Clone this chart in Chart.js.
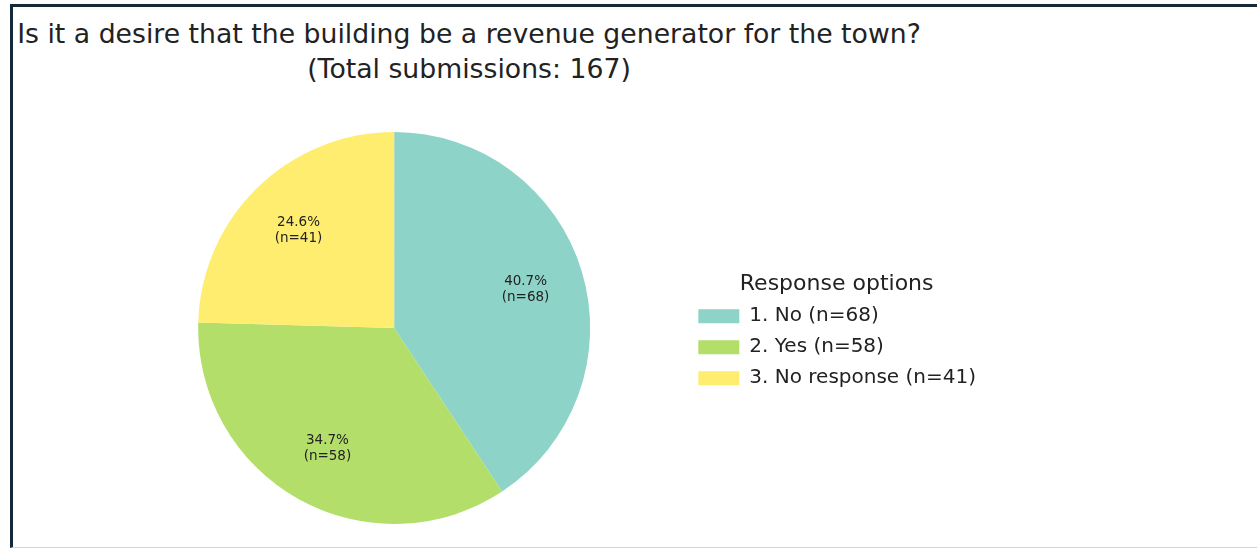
<!DOCTYPE html>
<html lang="en">

<head>
    <meta charset="utf-8" />
    <title>Revenue generator survey</title>
    <script src="https://cdn.jsdelivr.net/npm/chart.js@4.4.1/dist/chart.umd.min.js"></script>
    <style>
        body {
            margin: 0;
            width: 1257px;
            height: 548px;
            position: relative;
            background: #fff;
            overflow: hidden;
            font-family: 'DejaVu Sans', sans-serif;
        }

        #frame {
            position: absolute;
            left: 10px;
            top: 4px;
            right: 0;
            bottom: 0;
            border-left: 3px solid #15293a;
            border-top: 3px solid #15293a;
            border-bottom: 1px solid #d4d4d4;
        }

        #chart-title {
            position: absolute;
            left: 0;
            width: 938px;
            top: 16px;
            text-align: center;
            font-size: 26.7px;
            line-height: 35px;
            color: #222;
            white-space: pre;
        }

        #chart-pie {
            position: absolute;
            left: 0;
            top: 0;
        }
    </style>
</head>

<body>
    <div id="frame"></div>
    <div id="chart-title">Is it a desire that the building be a revenue generator for the town?
(Total submissions: 167)</div>
    <canvas id="chart-pie" width="1257" height="548"></canvas>
</body>

<script>
    const categories = ['1. No', '2. Yes', '3. No response'];
    const counts = [68, 58, 41];
    const colors = ['#8dd3c7', '#b3de69', '#ffed6f'];

    const total = counts.reduce((a, b) => a + b, 0);

    // percentage + count written inside each slice
    const sliceLabels = {
        id: 'sliceLabels',
        afterDatasetsDraw(chart) {
            const ctx = chart.ctx;
            const meta = chart.getDatasetMeta(0);
            ctx.save();
            ctx.font = '13.5px "DejaVu Sans"';
            ctx.fillStyle = '#222';
            ctx.textAlign = 'center';
            ctx.textBaseline = 'middle';
            meta.data.forEach((arc, i) => {
                const { x, y, startAngle, endAngle, outerRadius } = arc.getProps(['x', 'y', 'startAngle', 'endAngle', 'outerRadius'], true);
                const mid = (startAngle + endAngle) / 2;
                const r = outerRadius * 0.7;
                const cx = x + Math.cos(mid) * r;
                const cy = y + Math.sin(mid) * r;
                const pct = (counts[i] / total * 100).toFixed(1) + '%';
                ctx.fillText(pct, cx, cy - 7);
                ctx.fillText(`(n=${counts[i]})`, cx, cy + 9);
            });
            ctx.restore();
        }
    };

    const _ctx = document.getElementById('chart-pie').getContext('2d');
    const _chart = new Chart(_ctx, {
        type: 'pie',
        data: {
            labels: categories.map((c, i) => `${c} (n=${counts[i]})`),
            datasets: [{
                data: counts,
                backgroundColor: colors,
                borderWidth: 0
            }]
        },
        options: {
            responsive: false,
            animation: false,
            layout: {
                padding: { left: 101, right: 271, top: 132, bottom: 24 }
            },
            plugins: {
                title: { display: false },
                tooltip: { enabled: false },
                legend: {
                    position: 'right',
                    align: 'center',
                    title: {
                        display: true,
                        text: 'Response options',
                        color: '#222',
                        font: { family: 'DejaVu Sans', size: 22, lineHeight: 1.2 },
                        padding: { top: 16, bottom: -4 }
                    },
                    labels: {
                        boxWidth: 41,
                        boxHeight: 14,
                        padding: 11,
                        color: '#222',
                        font: { family: 'DejaVu Sans', size: 20 }
                    }
                }
            }
        },
        plugins: [sliceLabels]
    });
</script>

</html>
